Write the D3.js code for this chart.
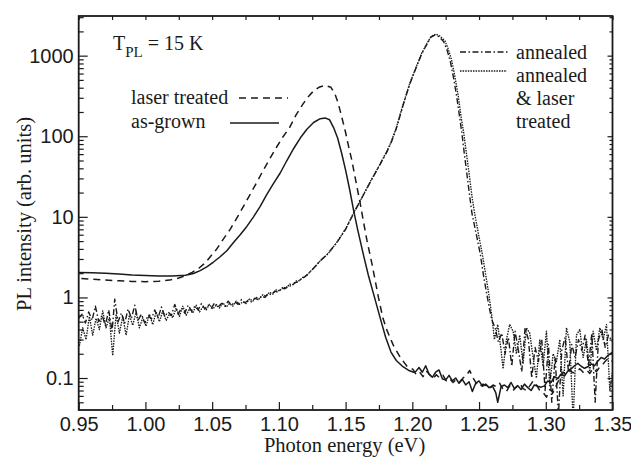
<!DOCTYPE html>
<html><head><meta charset="utf-8">
<script src="https://cdn.jsdelivr.net/npm/d3@7"></script>
<style>body{margin:0;background:#fff}svg{display:block}</style>
</head><body>
<svg id="c" width="631" height="459"></svg>
<script>
// ---------- data ----------
const xTicks = [0.95,1.00,1.05,1.10,1.15,1.20,1.25,1.30,1.35];
const yTicks = [0.1,1,10,100,1000];
const yTickLabels = ["0.1","1","10","100","1000"];
const legendLeft = ["laser treated","as-grown"];
const legendRight = ["annealed","annealed","& laser","treated"];

const asGrown = [[0.950,2.04],[0.960,2.03],[0.970,2.0],[0.980,1.95],[0.990,1.9],[1.000,1.87],[1.010,1.85],[1.020,1.85],[1.030,1.88],[1.036,1.98],[1.041,2.15],[1.046,2.4],[1.051,2.75],[1.056,3.2],[1.061,3.8],[1.066,4.8],[1.071,6.0],[1.076,7.6],[1.081,10],[1.086,13.5],[1.091,19],[1.096,26],[1.101,35],[1.106,50],[1.111,70],[1.116,95],[1.121,122],[1.126,148],[1.131,165],[1.135,168],[1.138,160],[1.141,128],[1.144,95],[1.147,62],[1.150,38],[1.153,22],[1.156,12],[1.159,7],[1.1635,3.3],[1.167,1.9],[1.171,1.1],[1.176,0.55],[1.180,0.32],[1.184,0.21],[1.188,0.165],[1.193,0.138],[1.197,0.125],[1.201,0.118],
[1.2025,0.12],[1.205,0.135],[1.2075,0.118],[1.210,0.142],[1.2125,0.112],[1.215,0.102],[1.2175,0.118],[1.220,0.126],[1.2225,0.098],[1.225,0.094],[1.2275,0.108],[1.230,0.092],[1.2325,0.1],[1.235,0.086],[1.2375,0.096],[1.240,0.082],[1.2425,0.09],[1.245,0.068],[1.2475,0.086],[1.250,0.092],[1.2525,0.079],[1.255,0.084],[1.2575,0.076],[1.260,0.08],[1.2625,0.066],[1.264,0.05],[1.2665,0.078],[1.269,0.082],[1.2715,0.076],[1.274,0.088],[1.2765,0.074],[1.279,0.08],[1.2815,0.072],[1.284,0.084],[1.2865,0.076],[1.289,0.07],[1.2915,0.082],[1.294,0.079],[1.2965,0.077],[1.299,0.08],[1.3015,0.092],[1.304,0.088],[1.3065,0.104],[1.309,0.098],[1.3115,0.112],[1.314,0.106],[1.3165,0.122],[1.319,0.13],[1.3215,0.142],[1.324,0.152],[1.3265,0.14],[1.329,0.132],[1.3315,0.138],[1.334,0.15],[1.3365,0.142],[1.339,0.162],[1.3415,0.18],[1.344,0.172],[1.3465,0.19],[1.350,0.21]];

const laserTreated = [[0.952,1.72],[0.960,1.68],[0.970,1.64],[0.980,1.61],[0.990,1.58],[1.000,1.57],[1.010,1.59],[1.018,1.64],[1.025,1.74],[1.030,1.86],[1.035,2.05],[1.040,2.3],[1.045,2.7],[1.0486,3.2],[1.053,3.9],[1.057,4.9],[1.0635,7.0],[1.069,10],[1.074,14],[1.0785,19],[1.083,26],[1.088,37],[1.093,52],[1.098,72],[1.103,98],[1.108,128],[1.113,185],[1.118,250],[1.122,310],[1.126,365],[1.130,405],[1.1347,428],[1.139,405],[1.142,335],[1.144,270],[1.146,205],[1.1497,117],[1.152,78],[1.1547,50],[1.158,26],[1.161,14.5],[1.1635,8.5],[1.166,5.1],[1.170,2.5],[1.1746,1.0],[1.178,0.55],[1.181,0.39],[1.186,0.25],[1.191,0.18],[1.196,0.14],
[1.2005,0.128],[1.203,0.11],[1.2055,0.118],[1.208,0.104],[1.2105,0.122],[1.213,0.11],[1.2155,0.098],[1.218,0.11],[1.2205,0.1],[1.223,0.108],[1.2255,0.092],[1.228,0.098],[1.2305,0.088],[1.233,0.096],[1.2355,0.09],[1.238,0.1],[1.2405,0.108],[1.243,0.124],[1.2455,0.1],[1.248,0.086],[1.2505,0.078],[1.253,0.084],[1.2555,0.08],[1.258,0.074],[1.2605,0.082],[1.263,0.078],[1.2655,0.086],[1.268,0.072],[1.2705,0.068],[1.273,0.08],[1.2755,0.07],[1.278,0.078],[1.2805,0.086],[1.283,0.074],[1.2855,0.07],[1.288,0.08],[1.2905,0.092],[1.293,0.082],[1.2955,0.07],[1.298,0.066],[1.3005,0.058],[1.303,0.072],[1.3055,0.066],[1.308,0.082],[1.3105,0.1],[1.313,0.118],[1.3155,0.11],[1.318,0.124],[1.3205,0.116],[1.323,0.12],[1.3255,0.13],[1.328,0.118],[1.3305,0.126],[1.333,0.114],[1.3355,0.132],[1.338,0.12],[1.3405,0.138],[1.343,0.15],[1.3455,0.168],[1.348,0.175],[1.350,0.16]];

const annealed = [[0.950,0.55],[0.9525,0.62],[0.955,0.48],[0.9575,0.66],[0.960,0.52],[0.9625,0.78],[0.965,0.5],[0.9675,0.6],[0.970,0.45],[0.9725,0.7],[0.975,0.38],[0.977,0.95],[0.9795,0.5],[0.982,0.64],[0.9845,0.48],[0.987,0.72],[0.9895,0.55],[0.992,0.8],[0.9945,0.52],[0.997,0.62],[0.9995,0.48],[1.002,0.6],[1.0045,0.54],[1.007,0.7],[1.0095,0.56],[1.012,0.76],[1.0145,0.58],[1.017,0.66],[1.0195,0.6],[1.022,0.82],[1.0245,0.62],[1.027,0.74],[1.0295,0.64],[1.032,0.8],[1.0345,0.68],[1.037,0.78],[1.0395,0.7],[1.042,0.84],[1.0445,0.72],[1.047,0.8],[1.0495,0.74],[1.052,0.86],[1.0545,0.76],[1.057,0.84],[1.0595,0.78],[1.062,0.9],[1.0645,0.8],[1.067,0.88],[1.0695,0.82],[1.072,0.94],[1.0745,0.86],[1.077,0.92],[1.0795,0.88],[1.082,0.98],[1.0845,0.94],[1.087,1.04],[1.0895,1.0],[1.092,1.12],[1.0945,1.08],[1.097,1.2],[1.0995,1.16],[1.102,1.3],[1.1045,1.28],[1.107,1.4],[1.1095,1.38],[1.112,1.52],[1.1145,1.56],[1.117,1.72],[1.1195,1.8],[1.122,1.98],
[1.126,2.3],[1.131,2.85],[1.136,3.4],[1.1435,4.8],[1.150,7.0],[1.156,11],[1.162,17],[1.168,26],[1.173,37],[1.178,52],[1.181,64],[1.184,82],[1.188,125],[1.193,240],[1.198,440],[1.203,720],[1.207,1050],[1.211,1400],[1.214,1700],[1.2168,1800],[1.220,1720],[1.2234,1500],[1.226,1180],[1.2284,860],[1.231,520],[1.2334,300],[1.2355,170],[1.2372,107],[1.239,60],[1.2409,34],[1.243,18],[1.2447,11],[1.248,6],[1.251,3.4],[1.2535,1.8],[1.256,1.05],[1.258,0.7],[1.2597,0.52],
[1.262,0.42],[1.2645,0.28],[1.267,0.36],[1.2695,0.2],[1.272,0.32],[1.2745,0.14],[1.277,0.38],[1.2795,0.22],[1.282,0.12],[1.2845,0.42],[1.287,0.3],[1.2895,0.1],[1.292,0.24],[1.2945,0.16],[1.297,0.3],[1.2995,0.07],[1.302,0.26],[1.3045,0.05],[1.307,0.18],[1.3095,0.035],[1.312,0.22],[1.3145,0.32],[1.317,0.12],[1.3195,0.26],[1.322,0.18],[1.3245,0.3],[1.327,0.22],[1.3295,0.34],[1.332,0.14],[1.3345,0.36],[1.337,0.05],[1.3395,0.3],[1.342,0.4],[1.3445,0.24],[1.347,0.34],[1.350,0.28]];

const annealedLaser = [[0.9505,0.25],[0.953,0.42],[0.9555,0.3],[0.958,0.58],[0.9605,0.34],[0.963,0.55],[0.9655,0.4],[0.968,0.68],[0.9705,0.42],[0.973,0.56],[0.9755,0.19],[0.978,0.62],[0.9805,0.36],[0.983,0.58],[0.9855,0.34],[0.988,0.6],[0.9905,0.45],[0.993,0.66],[0.9955,0.42],[0.998,0.56],[1.0005,0.44],[1.003,0.62],[1.0055,0.46],[1.008,0.66],[1.0105,0.5],[1.013,0.68],[1.0155,0.52],[1.018,0.62],[1.0205,0.56],[1.023,0.74],[1.0255,0.58],[1.028,0.78],[1.0305,0.6],[1.033,0.72],[1.0355,0.64],[1.038,0.8],[1.0405,0.66],[1.043,0.76],[1.0455,0.7],[1.048,0.82],[1.0505,0.72],[1.053,0.8],[1.0555,0.74],[1.058,0.86],[1.0605,0.76],[1.063,0.84],[1.0655,0.78],[1.068,0.9],[1.0705,0.82],[1.073,0.88],[1.0755,0.84],[1.078,0.96],[1.0805,0.9],[1.083,1.0],[1.0855,0.96],[1.088,1.08],[1.0905,1.04],[1.093,1.16],[1.0955,1.1],[1.098,1.24],[1.1005,1.2],[1.103,1.34],[1.1055,1.3],[1.108,1.46],[1.1105,1.44],[1.113,1.6],[1.1155,1.62],[1.118,1.78],[1.1205,1.84],[1.123,2.05],
[1.127,2.4],[1.1315,2.9],[1.137,3.5],[1.1435,4.85],[1.150,7.1],[1.156,11.2],[1.162,17],[1.168,26.5],[1.173,37],[1.178,53],[1.181,66],[1.184,84],[1.188,128],[1.193,245],[1.198,450],[1.203,730],[1.207,1070],[1.211,1420],[1.214,1730],[1.2175,1850],[1.2205,1760],[1.2245,1520],[1.227,1200],[1.2295,870],[1.232,540],[1.2345,310],[1.2365,175],[1.2385,110],[1.2405,62],[1.2425,35],[1.2445,19],[1.2465,11.5],[1.2495,6.2],[1.2525,3.4],[1.255,1.9],[1.2575,1.05],[1.2595,0.6],
[1.2615,0.3],[1.264,0.46],[1.2665,0.22],[1.268,0.13],[1.2705,0.3],[1.273,0.46],[1.2755,0.38],[1.278,0.2],[1.2805,0.34],[1.283,0.15],[1.2855,0.42],[1.288,0.36],[1.2905,0.18],[1.293,0.1],[1.2955,0.3],[1.298,0.14],[1.3005,0.38],[1.303,0.08],[1.3055,0.2],[1.308,0.16],[1.3105,0.3],[1.313,0.06],[1.3155,0.42],[1.318,0.28],[1.3205,0.03],[1.323,0.34],[1.3255,0.4],[1.328,0.18],[1.3305,0.3],[1.333,0.12],[1.3355,0.38],[1.338,0.22],[1.3405,0.42],[1.343,0.3],[1.3455,0.46],[1.348,0.07],[1.350,0.12]];

// ---------- layout ----------
const svg = d3.select("#c");
const L = 78.7, R = 612.5, T = 16, B = 410;
const ink = "#1a1a1a";
const x = d3.scaleLinear().domain([0.95,1.35]).range([L,R]);
const y = d3.scaleLog().domain([0.0401,3105]).range([B,T]);

svg.append("defs").append("clipPath").attr("id","clip")
  .append("rect").attr("x",L).attr("y",T).attr("width",R-L).attr("height",B-T);

const line = d3.line().x(d=>x(d[0])).y(d=>y(d[1]));
const series = [
  {d:asGrown, dash:null, w:1.5},
  {d:laserTreated, dash:"7,5", w:1.5},
  {d:annealed, dash:"6,2.5,1.5,2.5", w:1.4},
  {d:annealedLaser, dash:"1.5,1.1", w:1.35}
];
const g = svg.append("g").attr("clip-path","url(#clip)");
series.forEach(s=>{
  g.append("path").attr("d",line(s.d)).attr("fill","none").attr("stroke",ink)
   .attr("stroke-width",s.w).attr("stroke-dasharray",s.dash).attr("stroke-linejoin","round");
});

// axes (ticks inward)
const minorX = d3.range(0,17).map(i=>0.95+i*0.025);
const axB = d3.axisBottom(x).tickValues(xTicks).tickSize(-8).tickPadding(7).tickFormat(d3.format(".2f"));
svg.append("g").attr("transform",`translate(0,${B})`).call(axB);
const axT = d3.axisTop(x).tickValues(minorX).tickSize(-4).tickFormat("");
svg.append("g").attr("transform",`translate(0,${T})`).call(axT);
svg.append("g").attr("transform",`translate(0,${B})`).call(d3.axisBottom(x).tickValues(minorX.filter((v,i)=>i%2===1)).tickSize(-5).tickFormat(""));

const minorY = [];
[0.01,0.1,1,10,100,1000].forEach(dec=>{for(let k=2;k<=9;k++){const v=dec*k; if(v>0.0401&&v<3105) minorY.push(v);}});
const axL = d3.axisLeft(y).tickValues(yTicks).tickSize(-9).tickPadding(5).tickFormat((d,i)=>yTickLabels[i]);
svg.append("g").attr("transform",`translate(${L},0)`).call(axL);
svg.append("g").attr("transform",`translate(${L},0)`).call(d3.axisLeft(y).tickValues(minorY).tickSize(-5).tickFormat(""));
svg.append("g").attr("transform",`translate(${R},0)`).call(d3.axisRight(y).tickValues(yTicks).tickSize(-5).tickFormat(""));
svg.append("g").attr("transform",`translate(${R},0)`).call(d3.axisRight(y).tickValues(minorY).tickSize(-3).tickFormat(""));

svg.selectAll(".domain").remove();
svg.selectAll(".tick line").attr("stroke",ink).attr("stroke-width",1.2);
svg.selectAll(".tick text").attr("fill",ink).style("font-family","'Liberation Sans', Arial, sans-serif").style("font-size","20px");

svg.append("rect").attr("x",L).attr("y",T).attr("width",R-L).attr("height",B-T)
  .attr("fill","none").attr("stroke",ink).attr("stroke-width",1.8);

const serif = "'Liberation Serif','Times New Roman',serif";
// axis titles
svg.append("text").attr("x",(L+R)/2 - 1).attr("y",452).attr("text-anchor","middle")
  .style("font-family",serif).style("font-size","20.5px").attr("fill",ink).text("Photon energy (eV)");
svg.append("text").attr("transform","translate(31,214) rotate(-90)").attr("text-anchor","middle")
  .style("font-family",serif).style("font-size","20.5px").attr("fill",ink).text("PL intensity (arb. units)");

// annotation
const tt = svg.append("text").attr("x",113).attr("y",50).style("font-family",serif).style("font-size","20px").attr("fill",ink);
tt.append("tspan").text("T");
tt.append("tspan").attr("dy",7).style("font-size","15px").text("PL");
tt.append("tspan").attr("dy",-7).text(" = 15 K");

// left legend
const ll = [{t:legendLeft[0],yb:104,ly:98,x1:239,x2:288,dash:"7,5"},{t:legendLeft[1],yb:128,ly:123,x1:230,x2:279,dash:null}];
ll.forEach(o=>{
  svg.append("text").attr("x",131).attr("y",o.yb).style("font-family",serif).style("font-size","20px").attr("fill",ink).text(o.t);
  svg.append("line").attr("x1",o.x1).attr("x2",o.x2).attr("y1",o.ly).attr("y2",o.ly).attr("stroke",ink).attr("stroke-width",1.5).attr("stroke-dasharray",o.dash);
});
// right legend
svg.append("line").attr("x1",460).attr("x2",510).attr("y1",52).attr("y2",52).attr("stroke",ink).attr("stroke-width",1.4).attr("stroke-dasharray","6,2.5,1.5,2.5");
svg.append("line").attr("x1",460).attr("x2",507).attr("y1",71).attr("y2",71).attr("stroke",ink).attr("stroke-width",1.35).attr("stroke-dasharray","1.5,1.1");
legendRight.forEach((t,i)=>{
  svg.append("text").attr("x",516).attr("y",59+i*23).style("font-family",serif).style("font-size","20px").attr("fill",ink).text(t);
});
</script>
</body></html>
